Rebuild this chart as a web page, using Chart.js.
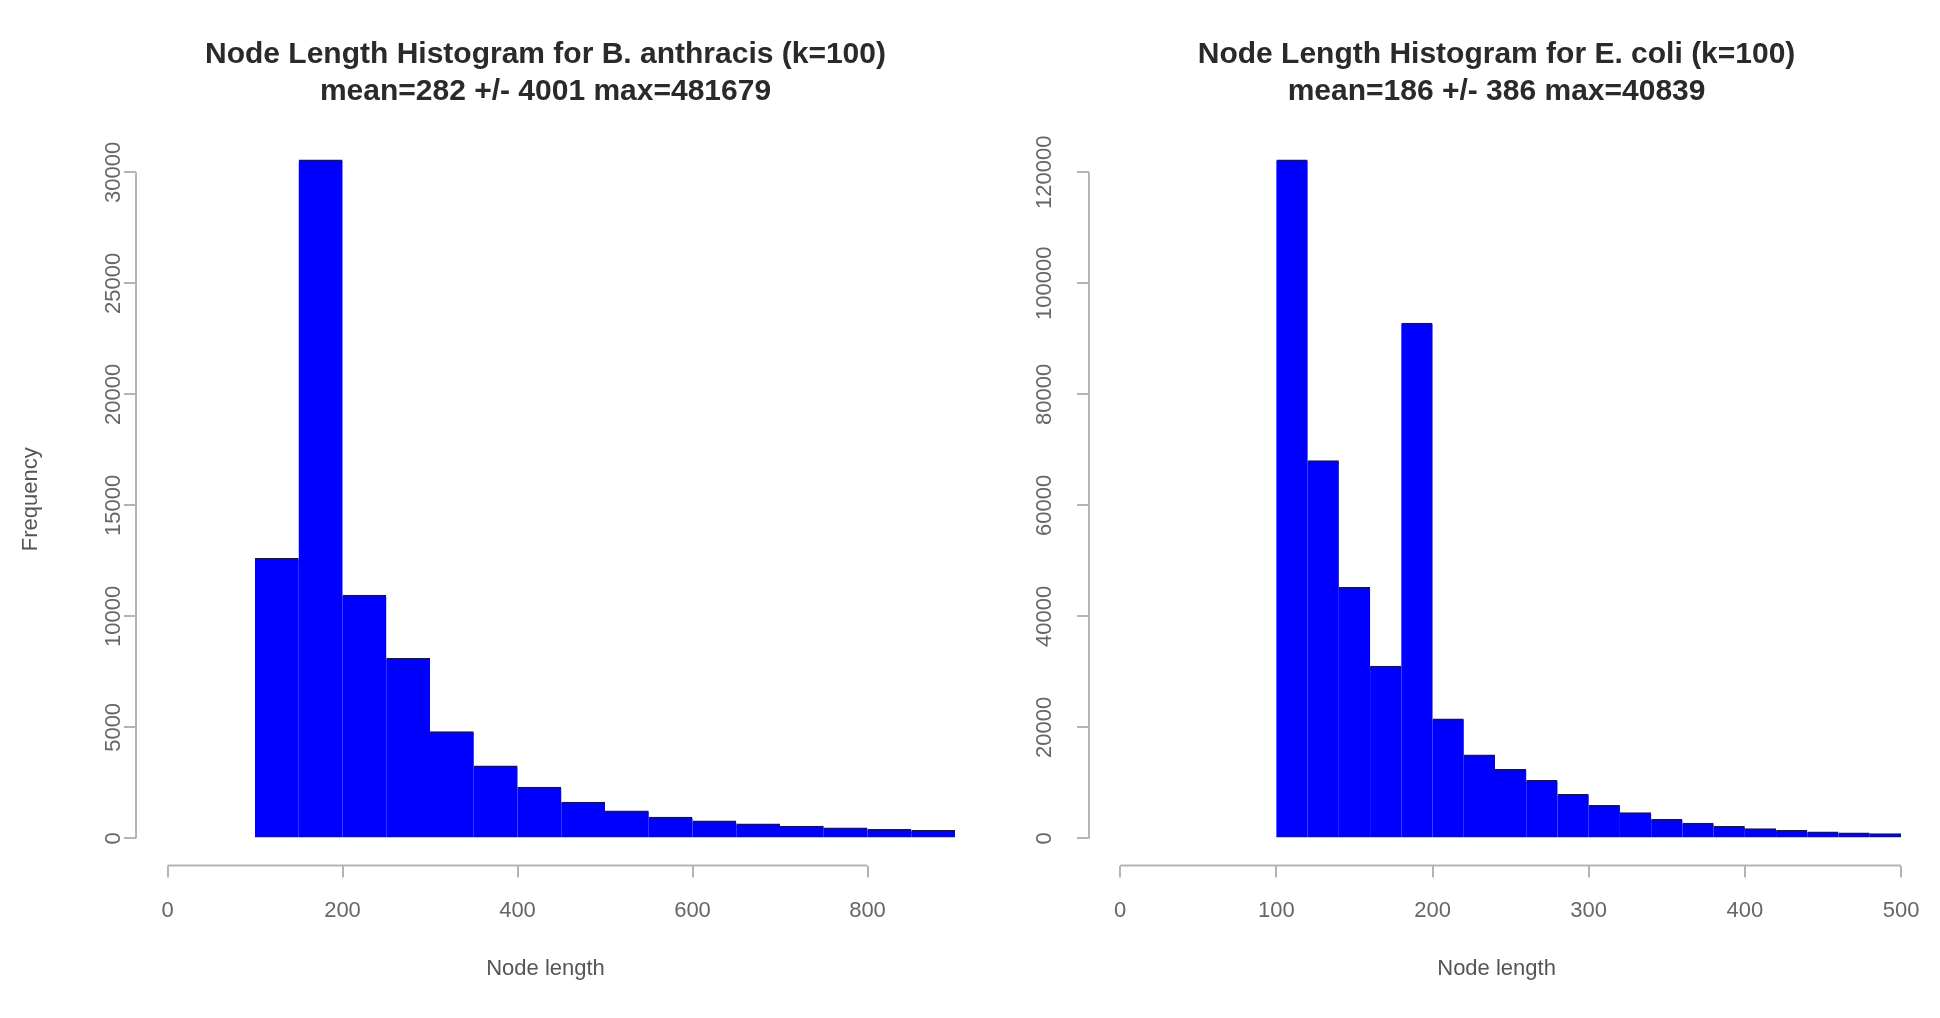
<!DOCTYPE html>
<html>
<head>
<meta charset="utf-8">
<title>Node Length Histograms</title>
<script src="https://cdn.jsdelivr.net/npm/chart.js@4.4.1/dist/chart.umd.min.js"></script>
<style>
    body { margin: 0; background: #fff; overflow: hidden; width: 1940px; height: 1018px; position: relative; }
    canvas { position: absolute; top: 0; }
    #leftChart { left: 0; }
    #rightChart { left: 1000px; }
</style>
</head>
<body>
<canvas id="leftChart" width="1000" height="1018"></canvas>
<canvas id="rightChart" width="940" height="1018"></canvas>
<script>
// B. anthracis: bin left edges (width 50) and counts
const anthracisBins = [100, 150, 200, 250, 300, 350, 400, 450, 500, 550, 600, 650, 700, 750, 800, 850];
const anthracisCounts = [12600, 30550, 10950, 8100, 4800, 3250, 2300, 1620, 1230, 950, 780, 640, 540, 460, 400, 350];
const anthracisBinWidth = 50;
const anthracisXTicks = [0, 200, 400, 600, 800];
const anthracisYTicks = [0, 5000, 10000, 15000, 20000, 25000, 30000];
const anthracisTitle = ["Node Length Histogram for B. anthracis (k=100)", "mean=282 +/- 4001 max=481679"];

// E. coli: bin left edges (width 20) and counts
const coliBins = [100, 120, 140, 160, 180, 200, 220, 240, 260, 280, 300, 320, 340, 360, 380, 400, 420, 440, 460, 480];
const coliCounts = [122200, 68000, 45200, 31000, 92800, 21500, 15000, 12400, 10400, 7900, 5900, 4600, 3400, 2700, 2100, 1700, 1400, 1150, 950, 800];
const coliBinWidth = 20;
const coliXTicks = [0, 100, 200, 300, 400, 500];
const coliYTicks = [0, 20000, 40000, 60000, 80000, 100000, 120000];
const coliTitle = ["Node Length Histogram for E. coli (k=100)", "mean=186 +/- 386 max=40839"];

const FONT = '"Liberation Sans", Arial, Helvetica, sans-serif';
const AXIS_COLOR = "#b4b4b4";
const LABEL_COLOR = "#666";

Chart.defaults.font.family = FONT;

// R style axis lines: only from first to last tick
const axisLines = {
    id: "axisLines",
    afterDraw(chart) {
        const { ctx, chartArea, scales } = chart;
        const x = scales.x, y = scales.y;
        const xt = x.ticks, yt = y.ticks;
        ctx.save();
        ctx.strokeStyle = AXIS_COLOR;
        ctx.lineWidth = 2;
        ctx.beginPath();
        ctx.moveTo(x.getPixelForValue(xt[0].value), chartArea.bottom);
        ctx.lineTo(x.getPixelForValue(xt[xt.length - 1].value), chartArea.bottom);
        ctx.moveTo(chartArea.left, y.getPixelForValue(yt[0].value));
        ctx.lineTo(chartArea.left, y.getPixelForValue(yt[yt.length - 1].value));
        ctx.stroke();
        ctx.restore();
    }
};

function makeHistogram(canvasId, cfg) {
    const points = cfg.bins.map((b, i) => ({ x: b + cfg.binWidth / 2, y: cfg.counts[i] }));
    const yMax = Math.max(...cfg.counts);

    return new Chart(document.getElementById(canvasId), {
        type: "bar",
        data: {
            datasets: [{
                data: points,
                backgroundColor: "#0000ff",
                borderColor: "#14145c",
                borderWidth: { top: 2, left: 0, right: 0, bottom: 0 },
                inflateAmount: 0.6,
                barPercentage: 1,
                categoryPercentage: 1
            }]
        },
        options: {
            responsive: false,
            animation: false,
            layout: { padding: cfg.padding },
            plugins: {
                legend: { display: false },
                tooltip: { enabled: false },
                title: {
                    display: true,
                    fullSize: false,
                    text: cfg.title,
                    color: "#2a2a2a",
                    font: { size: 30, weight: "bold", lineHeight: 37 / 30 },
                    padding: { top: 36, bottom: 23 }
                }
            },
            scales: {
                x: {
                    type: "linear",
                    offset: false,
                    min: cfg.xRange[0],
                    max: cfg.xRange[1],
                    afterBuildTicks: s => { s.ticks = cfg.xTicks.map(v => ({ value: v })); },
                    afterFit: s => { s.height = 152.5; },
                    border: { display: false },
                    grid: { display: true, offset: false, drawOnChartArea: false, drawTicks: true, tickLength: 12, color: AXIS_COLOR, lineWidth: 2 },
                    ticks: { autoSkip: false, padding: 20.5, color: LABEL_COLOR, font: { size: 22 }, maxRotation: 0, callback: v => String(v) },
                    title: { display: true, text: "Node length", color: "#555", font: { size: 22, lineHeight: 1.2 }, padding: { top: 0, bottom: 35.8 } }
                },
                y: {
                    min: -yMax * 0.04,
                    max: yMax * 1.04,
                    afterBuildTicks: s => { s.ticks = cfg.yTicks.map(v => ({ value: v })); },
                    afterFit: s => { s.width = cfg.yWidth; },
                    border: { display: false },
                    grid: { display: true, drawOnChartArea: false, drawTicks: true, tickLength: 12, color: AXIS_COLOR, lineWidth: 2 },
                    ticks: { autoSkip: false, padding: cfg.yLabelPad, crossAlign: "center", minRotation: 90, maxRotation: 90, color: LABEL_COLOR, font: { size: 22 }, callback: v => String(v) },
                    title: { display: cfg.yTitle !== "", text: cfg.yTitle, color: "#555", font: { size: 22, lineHeight: 1.2 }, padding: { top: 17.8, bottom: 0 } }
                }
            }
        },
        plugins: [axisLines]
    });
}

makeHistogram("leftChart", {
    bins: anthracisBins, counts: anthracisCounts, binWidth: anthracisBinWidth,
    xTicks: anthracisXTicks, yTicks: anthracisYTicks, title: anthracisTitle,
    xRange: [-36, 900], yWidth: 136, yLabelPad: -21, yTitle: "Frequency",
    padding: { left: 0, right: 45, top: 0, bottom: 0 }
});

makeHistogram("rightChart", {
    bins: coliBins, counts: coliCounts, binWidth: coliBinWidth,
    xTicks: coliXTicks, yTicks: coliYTicks, title: coliTitle,
    xRange: [-20, 502], yWidth: 89, yLabelPad: -5, yTitle: "",
    padding: { left: 0, right: 35, top: 0, bottom: 0 }
});
</script>
</body>
</html>
